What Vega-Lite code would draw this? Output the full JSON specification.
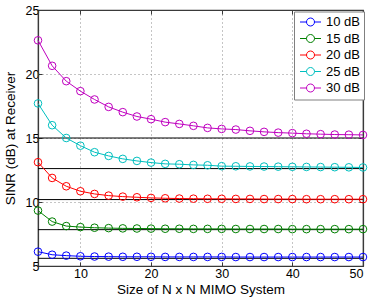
{
  "$schema": "https://vega.github.io/schema/vega-lite/v6.json",
  "width": 325,
  "height": 256,
  "autosize": {"type": "none"},
  "padding": {"left": 38, "top": 10, "right": 11, "bottom": 33},
  "config": {
    "font": "Liberation Sans",
    "view": {"stroke": "#3a3a3a", "strokeWidth": 1.2},
    "axis": {
      "labelFont": "Liberation Sans",
      "titleFont": "Liberation Sans",
      "labelFontSize": 12.5,
      "titleFontSize": 13.5,
      "titleFontWeight": "normal",
      "labelColor": "#000000",
      "titleColor": "#000000",
      "domainColor": "#3a3a3a",
      "domainWidth": 1.2,
      "tickColor": "#3a3a3a",
      "tickSize": -4,
      "gridColor": "#8a8a8a",
      "gridDash": [1, 3],
      "gridWidth": 1
    }
  },
  "datasets": {
    "curves": [
      {"n": 4, "snr": "10 dB", "sinr": 6.12}, {"n": 6, "snr": "10 dB", "sinr": 5.88}, {"n": 8, "snr": "10 dB", "sinr": 5.81}, {"n": 10, "snr": "10 dB", "sinr": 5.76},
      {"n": 12, "snr": "10 dB", "sinr": 5.74}, {"n": 14, "snr": "10 dB", "sinr": 5.73}, {"n": 16, "snr": "10 dB", "sinr": 5.72}, {"n": 18, "snr": "10 dB", "sinr": 5.72},
      {"n": 20, "snr": "10 dB", "sinr": 5.72}, {"n": 22, "snr": "10 dB", "sinr": 5.71}, {"n": 24, "snr": "10 dB", "sinr": 5.71}, {"n": 26, "snr": "10 dB", "sinr": 5.71},
      {"n": 28, "snr": "10 dB", "sinr": 5.71}, {"n": 30, "snr": "10 dB", "sinr": 5.71}, {"n": 32, "snr": "10 dB", "sinr": 5.7}, {"n": 34, "snr": "10 dB", "sinr": 5.7},
      {"n": 36, "snr": "10 dB", "sinr": 5.7}, {"n": 38, "snr": "10 dB", "sinr": 5.7}, {"n": 40, "snr": "10 dB", "sinr": 5.7}, {"n": 42, "snr": "10 dB", "sinr": 5.7},
      {"n": 44, "snr": "10 dB", "sinr": 5.7}, {"n": 46, "snr": "10 dB", "sinr": 5.7}, {"n": 48, "snr": "10 dB", "sinr": 5.7}, {"n": 50, "snr": "10 dB", "sinr": 5.7},

      {"n": 4, "snr": "15 dB", "sinr": 9.33}, {"n": 6, "snr": "15 dB", "sinr": 8.47}, {"n": 8, "snr": "15 dB", "sinr": 8.12}, {"n": 10, "snr": "15 dB", "sinr": 8.04},
      {"n": 12, "snr": "15 dB", "sinr": 7.99}, {"n": 14, "snr": "15 dB", "sinr": 7.96}, {"n": 16, "snr": "15 dB", "sinr": 7.94}, {"n": 18, "snr": "15 dB", "sinr": 7.93},
      {"n": 20, "snr": "15 dB", "sinr": 7.92}, {"n": 22, "snr": "15 dB", "sinr": 7.91}, {"n": 24, "snr": "15 dB", "sinr": 7.91}, {"n": 26, "snr": "15 dB", "sinr": 7.9},
      {"n": 28, "snr": "15 dB", "sinr": 7.9}, {"n": 30, "snr": "15 dB", "sinr": 7.9}, {"n": 32, "snr": "15 dB", "sinr": 7.89}, {"n": 34, "snr": "15 dB", "sinr": 7.89},
      {"n": 36, "snr": "15 dB", "sinr": 7.89}, {"n": 38, "snr": "15 dB", "sinr": 7.89}, {"n": 40, "snr": "15 dB", "sinr": 7.88}, {"n": 42, "snr": "15 dB", "sinr": 7.88},
      {"n": 44, "snr": "15 dB", "sinr": 7.88}, {"n": 46, "snr": "15 dB", "sinr": 7.88}, {"n": 48, "snr": "15 dB", "sinr": 7.88}, {"n": 50, "snr": "15 dB", "sinr": 7.88},

      {"n": 4, "snr": "20 dB", "sinr": 13.11}, {"n": 6, "snr": "20 dB", "sinr": 11.88}, {"n": 8, "snr": "20 dB", "sinr": 11.23}, {"n": 10, "snr": "20 dB", "sinr": 10.84},
      {"n": 12, "snr": "20 dB", "sinr": 10.63}, {"n": 14, "snr": "20 dB", "sinr": 10.5}, {"n": 16, "snr": "20 dB", "sinr": 10.42}, {"n": 18, "snr": "20 dB", "sinr": 10.37},
      {"n": 20, "snr": "20 dB", "sinr": 10.32}, {"n": 22, "snr": "20 dB", "sinr": 10.29}, {"n": 24, "snr": "20 dB", "sinr": 10.27}, {"n": 26, "snr": "20 dB", "sinr": 10.26},
      {"n": 28, "snr": "20 dB", "sinr": 10.25}, {"n": 30, "snr": "20 dB", "sinr": 10.25}, {"n": 32, "snr": "20 dB", "sinr": 10.24}, {"n": 34, "snr": "20 dB", "sinr": 10.24},
      {"n": 36, "snr": "20 dB", "sinr": 10.23}, {"n": 38, "snr": "20 dB", "sinr": 10.23}, {"n": 40, "snr": "20 dB", "sinr": 10.23}, {"n": 42, "snr": "20 dB", "sinr": 10.22},
      {"n": 44, "snr": "20 dB", "sinr": 10.22}, {"n": 46, "snr": "20 dB", "sinr": 10.22}, {"n": 48, "snr": "20 dB", "sinr": 10.22}, {"n": 50, "snr": "20 dB", "sinr": 10.22},

      {"n": 4, "snr": "25 dB", "sinr": 17.7}, {"n": 6, "snr": "25 dB", "sinr": 16.0}, {"n": 8, "snr": "25 dB", "sinr": 15.0}, {"n": 10, "snr": "25 dB", "sinr": 14.4},
      {"n": 12, "snr": "25 dB", "sinr": 13.89}, {"n": 14, "snr": "25 dB", "sinr": 13.6}, {"n": 16, "snr": "25 dB", "sinr": 13.37}, {"n": 18, "snr": "25 dB", "sinr": 13.21},
      {"n": 20, "snr": "25 dB", "sinr": 13.08}, {"n": 22, "snr": "25 dB", "sinr": 12.98}, {"n": 24, "snr": "25 dB", "sinr": 12.95}, {"n": 26, "snr": "25 dB", "sinr": 12.9},
      {"n": 28, "snr": "25 dB", "sinr": 12.87}, {"n": 30, "snr": "25 dB", "sinr": 12.8}, {"n": 32, "snr": "25 dB", "sinr": 12.79}, {"n": 34, "snr": "25 dB", "sinr": 12.78},
      {"n": 36, "snr": "25 dB", "sinr": 12.77}, {"n": 38, "snr": "25 dB", "sinr": 12.76}, {"n": 40, "snr": "25 dB", "sinr": 12.75}, {"n": 42, "snr": "25 dB", "sinr": 12.74},
      {"n": 44, "snr": "25 dB", "sinr": 12.73}, {"n": 46, "snr": "25 dB", "sinr": 12.72}, {"n": 48, "snr": "25 dB", "sinr": 12.71}, {"n": 50, "snr": "25 dB", "sinr": 12.7},

      {"n": 4, "snr": "30 dB", "sinr": 22.63}, {"n": 6, "snr": "30 dB", "sinr": 20.64}, {"n": 8, "snr": "30 dB", "sinr": 19.44}, {"n": 10, "snr": "30 dB", "sinr": 18.66},
      {"n": 12, "snr": "30 dB", "sinr": 18.01}, {"n": 14, "snr": "30 dB", "sinr": 17.43}, {"n": 16, "snr": "30 dB", "sinr": 17.02}, {"n": 18, "snr": "30 dB", "sinr": 16.68},
      {"n": 20, "snr": "30 dB", "sinr": 16.47}, {"n": 22, "snr": "30 dB", "sinr": 16.24}, {"n": 24, "snr": "30 dB", "sinr": 16.1}, {"n": 26, "snr": "30 dB", "sinr": 15.95},
      {"n": 28, "snr": "30 dB", "sinr": 15.79}, {"n": 30, "snr": "30 dB", "sinr": 15.71}, {"n": 32, "snr": "30 dB", "sinr": 15.66}, {"n": 34, "snr": "30 dB", "sinr": 15.56},
      {"n": 36, "snr": "30 dB", "sinr": 15.48}, {"n": 38, "snr": "30 dB", "sinr": 15.42}, {"n": 40, "snr": "30 dB", "sinr": 15.38}, {"n": 42, "snr": "30 dB", "sinr": 15.33},
      {"n": 44, "snr": "30 dB", "sinr": 15.3}, {"n": 46, "snr": "30 dB", "sinr": 15.27}, {"n": 48, "snr": "30 dB", "sinr": 15.26}, {"n": 50, "snr": "30 dB", "sinr": 15.24}
    ],
    "limits": [
      {"limit": 5.6}, {"limit": 7.84}, {"limit": 10.19}, {"limit": 12.61}, {"limit": 15.0}
    ]
  },
  "layer": [
    {
      "data": {"name": "curves"},
      "mark": {"type": "line", "strokeWidth": 0, "opacity": 0},
      "encoding": {
        "x": {"field": "n", "type": "quantitative", "scale": {"domain": [4, 50], "nice": false, "zero": false},
              "axis": {"orient": "bottom", "values": [10, 20, 30, 40, 50], "grid": true, "title": "Size of N x N MIMO System", "labelPadding": 5, "titlePadding": 3}},
        "y": {"field": "sinr", "type": "quantitative", "scale": {"domain": [5, 25], "nice": false, "zero": false},
              "axis": {"orient": "left", "values": [5, 10, 15, 20, 25], "grid": true, "title": "SINR (dB) at Receiver", "labelPadding": 3, "titlePadding": 8}}
      }
    },
    {
      "data": {"name": "curves"},
      "mark": {"type": "line", "strokeWidth": 0, "opacity": 0},
      "encoding": {
        "x": {"field": "n", "type": "quantitative",
              "axis": {"orient": "top", "values": [10, 20, 30, 40, 50], "labels": false, "grid": false, "title": null}},
        "y": {"field": "sinr", "type": "quantitative",
              "axis": {"orient": "right", "values": [5, 10, 15, 20, 25], "labels": false, "grid": false, "title": null}}
      }
    },
    {
      "data": {"name": "limits"},
      "mark": {"type": "rule", "color": "#000000", "strokeWidth": 1},
      "encoding": {
        "y": {"field": "limit", "type": "quantitative", "axis": null}
      }
    },
    {
      "data": {"name": "curves"},
      "mark": {"type": "line", "strokeWidth": 1},
      "encoding": {
        "x": {"field": "n", "type": "quantitative", "axis": null},
        "y": {"field": "sinr", "type": "quantitative", "axis": null},
        "color": {"field": "snr", "type": "nominal",
                  "scale": {"domain": ["10 dB", "15 dB", "20 dB", "25 dB", "30 dB"], "range": ["#0000ff", "#008000", "#ff0000", "#00bfbf", "#bf00bf"]}}
      }
    },
    {
      "data": {"name": "curves"},
      "mark": {"type": "point", "shape": "circle", "filled": false, "size": 58, "strokeWidth": 1, "opacity": 1},
      "encoding": {
        "x": {"field": "n", "type": "quantitative", "axis": null},
        "y": {"field": "sinr", "type": "quantitative", "axis": null},
        "color": {"field": "snr", "type": "nominal",
                  "scale": {"domain": ["10 dB", "15 dB", "20 dB", "25 dB", "30 dB"], "range": ["#0000ff", "#008000", "#ff0000", "#00bfbf", "#bf00bf"]},
                  "legend": {
                    "title": null,
                    "orient": "none",
                    "legendX": 256,
                    "legendY": 1.5,
                    "padding": 4,
                    "fillColor": "#ffffff",
                    "strokeColor": "#808080",
                    "symbolType": "M-2.1,0L-0.8,0M0.8,0L2.1,0M-0.8,0A0.8,0.8,0,1,1,0.8,0A0.8,0.8,0,1,1,-0.8,0Z",
                    "symbolSize": 100,
                    "symbolStrokeWidth": 1,
                    "symbolFillColor": "transparent",
                    "symbolOffset": 6,
                    "labelOffset": 9,
                    "labelFont": "Liberation Sans",
                    "labelFontSize": 13,
                    "labelColor": "#000000",
                    "rowPadding": 2.5
                  }}
      }
    }
  ],
  "resolve": {"axis": {"x": "independent", "y": "independent"}}
}
